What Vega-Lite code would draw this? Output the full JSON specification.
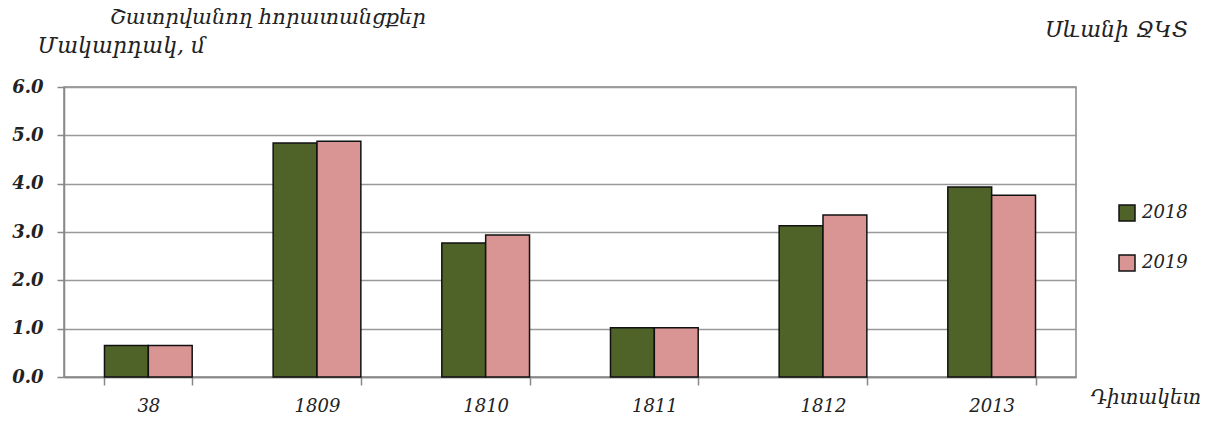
{
  "$schema": "https://vega.github.io/schema/vega-lite/v6.json",
  "width": 1012,
  "height": 290,
  "autosize": "none",
  "padding": {"left": 64, "top": 87, "right": 136, "bottom": 50},
  "background": "white",
  "title": {
    "text": "Շատրվանող հորատանցքեր",
    "anchor": "start",
    "frame": "group",
    "dx": 46,
    "font": "DejaVu Serif",
    "fontStyle": "italic",
    "fontWeight": "normal",
    "fontSize": 21,
    "color": "#222",
    "offset": -8
  },
  "data": {
    "values": [
      {"station": "38", "year": "2018", "level": 0.65},
      {"station": "38", "year": "2019", "level": 0.65},
      {"station": "1809", "year": "2018", "level": 4.84},
      {"station": "1809", "year": "2019", "level": 4.88},
      {"station": "1810", "year": "2018", "level": 2.77},
      {"station": "1810", "year": "2019", "level": 2.94},
      {"station": "1811", "year": "2018", "level": 1.02},
      {"station": "1811", "year": "2019", "level": 1.02},
      {"station": "1812", "year": "2018", "level": 3.13},
      {"station": "1812", "year": "2019", "level": 3.35},
      {"station": "2013", "year": "2018", "level": 3.93},
      {"station": "2013", "year": "2019", "level": 3.76}
    ]
  },
  "mark": {"type": "bar", "stroke": "#111", "strokeWidth": 1.5},
  "encoding": {
    "x": {
      "field": "station",
      "type": "nominal",
      "sort": null,
      "scale": {"paddingInner": 0.48, "paddingOuter": 0.24},
      "axis": {
        "title": "Դիտակետ",
        "titleFont": "DejaVu Serif",
        "titleFontStyle": "italic",
        "titleFontWeight": "normal",
        "titleFontSize": 20,
        "titleColor": "#222",
        "titleAlign": "left",
        "titleBaseline": "middle",
        "titleAnchor": null,
        "titleX": 1026,
        "titleY": 20,
        "labelAngle": 0,
        "labelFont": "DejaVu Serif",
        "labelFontStyle": "italic",
        "labelFontSize": 18,
        "labelColor": "#222",
        "labelPadding": 12,
        "tickBand": "extent",
        "tickSize": 8,
        "tickColor": "#888",
        "tickWidth": 1.5,
        "domainColor": "#888",
        "domainWidth": 1.5,
        "grid": false
      }
    },
    "xOffset": {"field": "year", "type": "nominal"},
    "y": {
      "field": "level",
      "type": "quantitative",
      "scale": {"domain": [0, 6], "nice": false},
      "axis": {
        "title": "Մակարդակ, մ",
        "titleAngle": 0,
        "titleAlign": "left",
        "titleBaseline": "middle",
        "titleAnchor": null,
        "titleX": -27,
        "titleY": -42,
        "titleFont": "DejaVu Serif",
        "titleFontStyle": "italic",
        "titleFontWeight": "normal",
        "titleFontSize": 22,
        "titleColor": "#222",
        "values": [0, 1, 2, 3, 4, 5, 6],
        "format": ".1f",
        "labelFont": "DejaVu Serif",
        "labelFontStyle": "italic",
        "labelFontWeight": "bold",
        "labelFontSize": 18,
        "labelColor": "#222",
        "labelPadding": 14,
        "tickSize": 7,
        "tickColor": "#888",
        "tickWidth": 1.5,
        "domainColor": "#888",
        "domainWidth": 1.5,
        "gridColor": "#999",
        "gridWidth": 1.5
      }
    },
    "fill": {
      "field": "year",
      "type": "nominal",
      "scale": {"domain": ["2018", "2019"], "range": ["#4F6228", "#D99594"]},
      "legend": {
        "title": "Սևանի ՋԿՏ",
        "orient": "none",
        "legendX": 981,
        "legendY": -67,
        "titleAnchor": "end",
        "titleFont": "DejaVu Serif",
        "titleFontStyle": "italic",
        "titleFontWeight": "normal",
        "titleFontSize": 22,
        "titleColor": "#222",
        "titlePadding": 162,
        "titleLimit": 400,
        "symbolType": "square",
        "symbolSize": 256,
        "symbolStrokeColor": "#111",
        "symbolStrokeWidth": 1.5,
        "labelFont": "DejaVu Serif",
        "labelFontStyle": "italic",
        "labelFontSize": 18,
        "labelColor": "#222",
        "labelOffset": 6,
        "rowPadding": 28,
        "padding": 0
      }
    }
  },
  "config": {
    "view": {"stroke": "#888", "strokeWidth": 1.5}
  }
}
